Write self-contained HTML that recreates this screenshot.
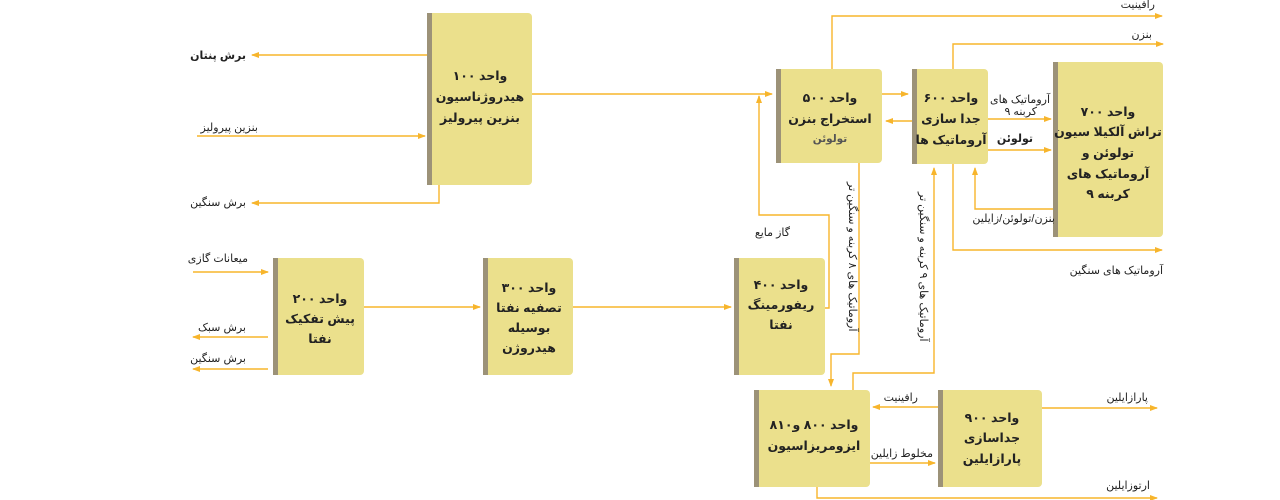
<!DOCTYPE html>
<html><head><meta charset="utf-8"><style>
html,body{margin:0;padding:0;background:#fff;}
svg{display:block;font-family:"Liberation Sans","DejaVu Sans",sans-serif;}
.b{font-weight:bold;font-size:12.5px;fill:#222;}
.l{font-size:11px;fill:#222;}
.ln{stroke:#f7b52c;stroke-width:1.4;fill:none;}
</style></head><body>
<svg width="1280" height="500" viewBox="0 0 1280 500" xmlns="http://www.w3.org/2000/svg">
<defs><marker id="a" markerWidth="8" markerHeight="6" refX="7" refY="3" orient="auto" markerUnits="userSpaceOnUse"><path d="M0,0 L8,3 L0,6 Z" fill="#f7b52c"/></marker></defs>
<g fill="#ebe08c">
<rect x="427" y="13" width="105" height="172" rx="4"/>
<rect x="776" y="69" width="106" height="94" rx="4"/>
<rect x="912" y="69" width="76" height="95" rx="4"/>
<rect x="1053" y="62" width="110" height="175" rx="4"/>
<rect x="273" y="258" width="91" height="117" rx="4"/>
<rect x="483" y="258" width="90" height="117" rx="4"/>
<rect x="734" y="258" width="91" height="117" rx="4"/>
<rect x="754" y="390" width="116" height="97" rx="4"/>
<rect x="938" y="390" width="104" height="97" rx="4"/>
</g>
<g fill="#9c9278">
<rect x="427" y="13" width="5" height="172"/>
<rect x="776" y="69" width="5" height="94"/>
<rect x="912" y="69" width="5" height="95"/>
<rect x="1053" y="62" width="5" height="175"/>
<rect x="273" y="258" width="5" height="117"/>
<rect x="483" y="258" width="5" height="117"/>
<rect x="734" y="258" width="5" height="117"/>
<rect x="754" y="390" width="5" height="97"/>
<rect x="938" y="390" width="5" height="97"/>
</g>
<g class="ln">
<path d="M427 55 H252" marker-end="url(#a)"/>
<path d="M197 136 H425" marker-end="url(#a)"/>
<path d="M439 185 V203 H252" marker-end="url(#a)"/>
<path d="M532 94 H772" marker-end="url(#a)"/>
<path d="M825 308 H829 V215 H759 V96" marker-end="url(#a)"/>
<path d="M882 94 H908" marker-end="url(#a)"/>
<path d="M912 121 H886" marker-end="url(#a)"/>
<path d="M832 69 V16 H1162" marker-end="url(#a)"/>
<path d="M953 69 V44 H1163" marker-end="url(#a)"/>
<path d="M988 119 H1051" marker-end="url(#a)"/>
<path d="M988 150 H1051" marker-end="url(#a)"/>
<path d="M1053 209 H975 V168" marker-end="url(#a)"/>
<path d="M953 164 V250 H1162" marker-end="url(#a)"/>
<path d="M859 163 V354 H831 V386" marker-end="url(#a)"/>
<path d="M853 390 V373 H934 V168" marker-end="url(#a)"/>
<path d="M193 272 H268" marker-end="url(#a)"/>
<path d="M268 337 H193" marker-end="url(#a)"/>
<path d="M268 369 H193" marker-end="url(#a)"/>
<path d="M364 307 H480" marker-end="url(#a)"/>
<path d="M573 307 H731" marker-end="url(#a)"/>
<path d="M938 407 H873" marker-end="url(#a)"/>
<path d="M870 463 H935" marker-end="url(#a)"/>
<path d="M1042 408 H1157" marker-end="url(#a)"/>
<path d="M817 487 V498 H1157" marker-end="url(#a)"/>
</g>
<g class="b" text-anchor="middle">
<text x="480" y="80">واحد ۱۰۰</text><text x="480" y="101">هیدروژناسیون</text><text x="480" y="122">بنزین پیرولیز</text>
<text x="830" y="102">واحد ۵۰۰</text><text x="830" y="123">استخراج بنزن</text><text x="830" y="142" style="font-size:10.5px;fill:#555">تولوئن</text>
<text x="951" y="102">واحد ۶۰۰</text><text x="951" y="123">جدا سازی</text><text x="951" y="144">آروماتیک ها</text>
<text x="1108" y="116">واحد ۷۰۰</text><text x="1108" y="136">تراش آلکیلا سیون</text><text x="1108" y="157">تولوئن و</text><text x="1108" y="178">آروماتیک های</text><text x="1108" y="198">کربنه ۹</text>
<text x="320" y="303">واحد ۲۰۰</text><text x="320" y="323">پیش تفکیک</text><text x="320" y="343">نفتا</text>
<text x="529" y="292">واحد ۳۰۰</text><text x="529" y="312">تصفیه نفتا</text><text x="529" y="332">بوسیله</text><text x="529" y="352">هیدروژن</text>
<text x="781" y="289">واحد ۴۰۰</text><text x="781" y="309">ریفورمینگ</text><text x="781" y="329">نفتا</text>
<text x="814" y="429">واحد ۸۰۰ و۸۱۰</text><text x="814" y="450">ایزومریزاسیون</text>
<text x="992" y="422">واحد ۹۰۰</text><text x="992" y="442">جداسازی</text><text x="992" y="463">پارازایلین</text>
</g>
<g class="l" text-anchor="end">
<text x="246" y="59" style="font-weight:bold">برش پنتان</text>
<text x="258" y="131">بنزین پیرولیز</text>
<text x="246" y="206">برش سنگین</text>
<text x="790" y="236">گاز مایع</text>
<text x="1155" y="8">رافینیت</text>
<text x="1152" y="38">بنزن</text>
<text x="1050" y="103">آروماتیک های</text>
<text x="1037" y="115">کربنه ۹</text>
<text x="1033" y="142" style="font-weight:bold">تولوئن</text>
<text x="1055" y="222">بنزن/تولوئن/زایلین</text>
<text x="1163" y="274">آروماتیک های سنگین</text>
<text x="248" y="262">میعانات گازی</text>
<text x="246" y="331">برش سبک</text>
<text x="246" y="362">برش سنگین</text>
<text x="918" y="401">رافینیت</text>
<text x="933" y="457">مخلوط زایلین</text>
<text x="1148" y="401">پارازایلین</text>
<text x="1150" y="489">ارتوزایلین</text>
</g>
<g class="l" text-anchor="start">
<text transform="translate(849,182) rotate(90)">آروماتیک های ۸ کربنه و سنگین تر</text>
<text transform="translate(920,192) rotate(90)">آروماتیک های ۹ کربنه و سنگین تر</text>
</g>
</svg>
</body></html>
